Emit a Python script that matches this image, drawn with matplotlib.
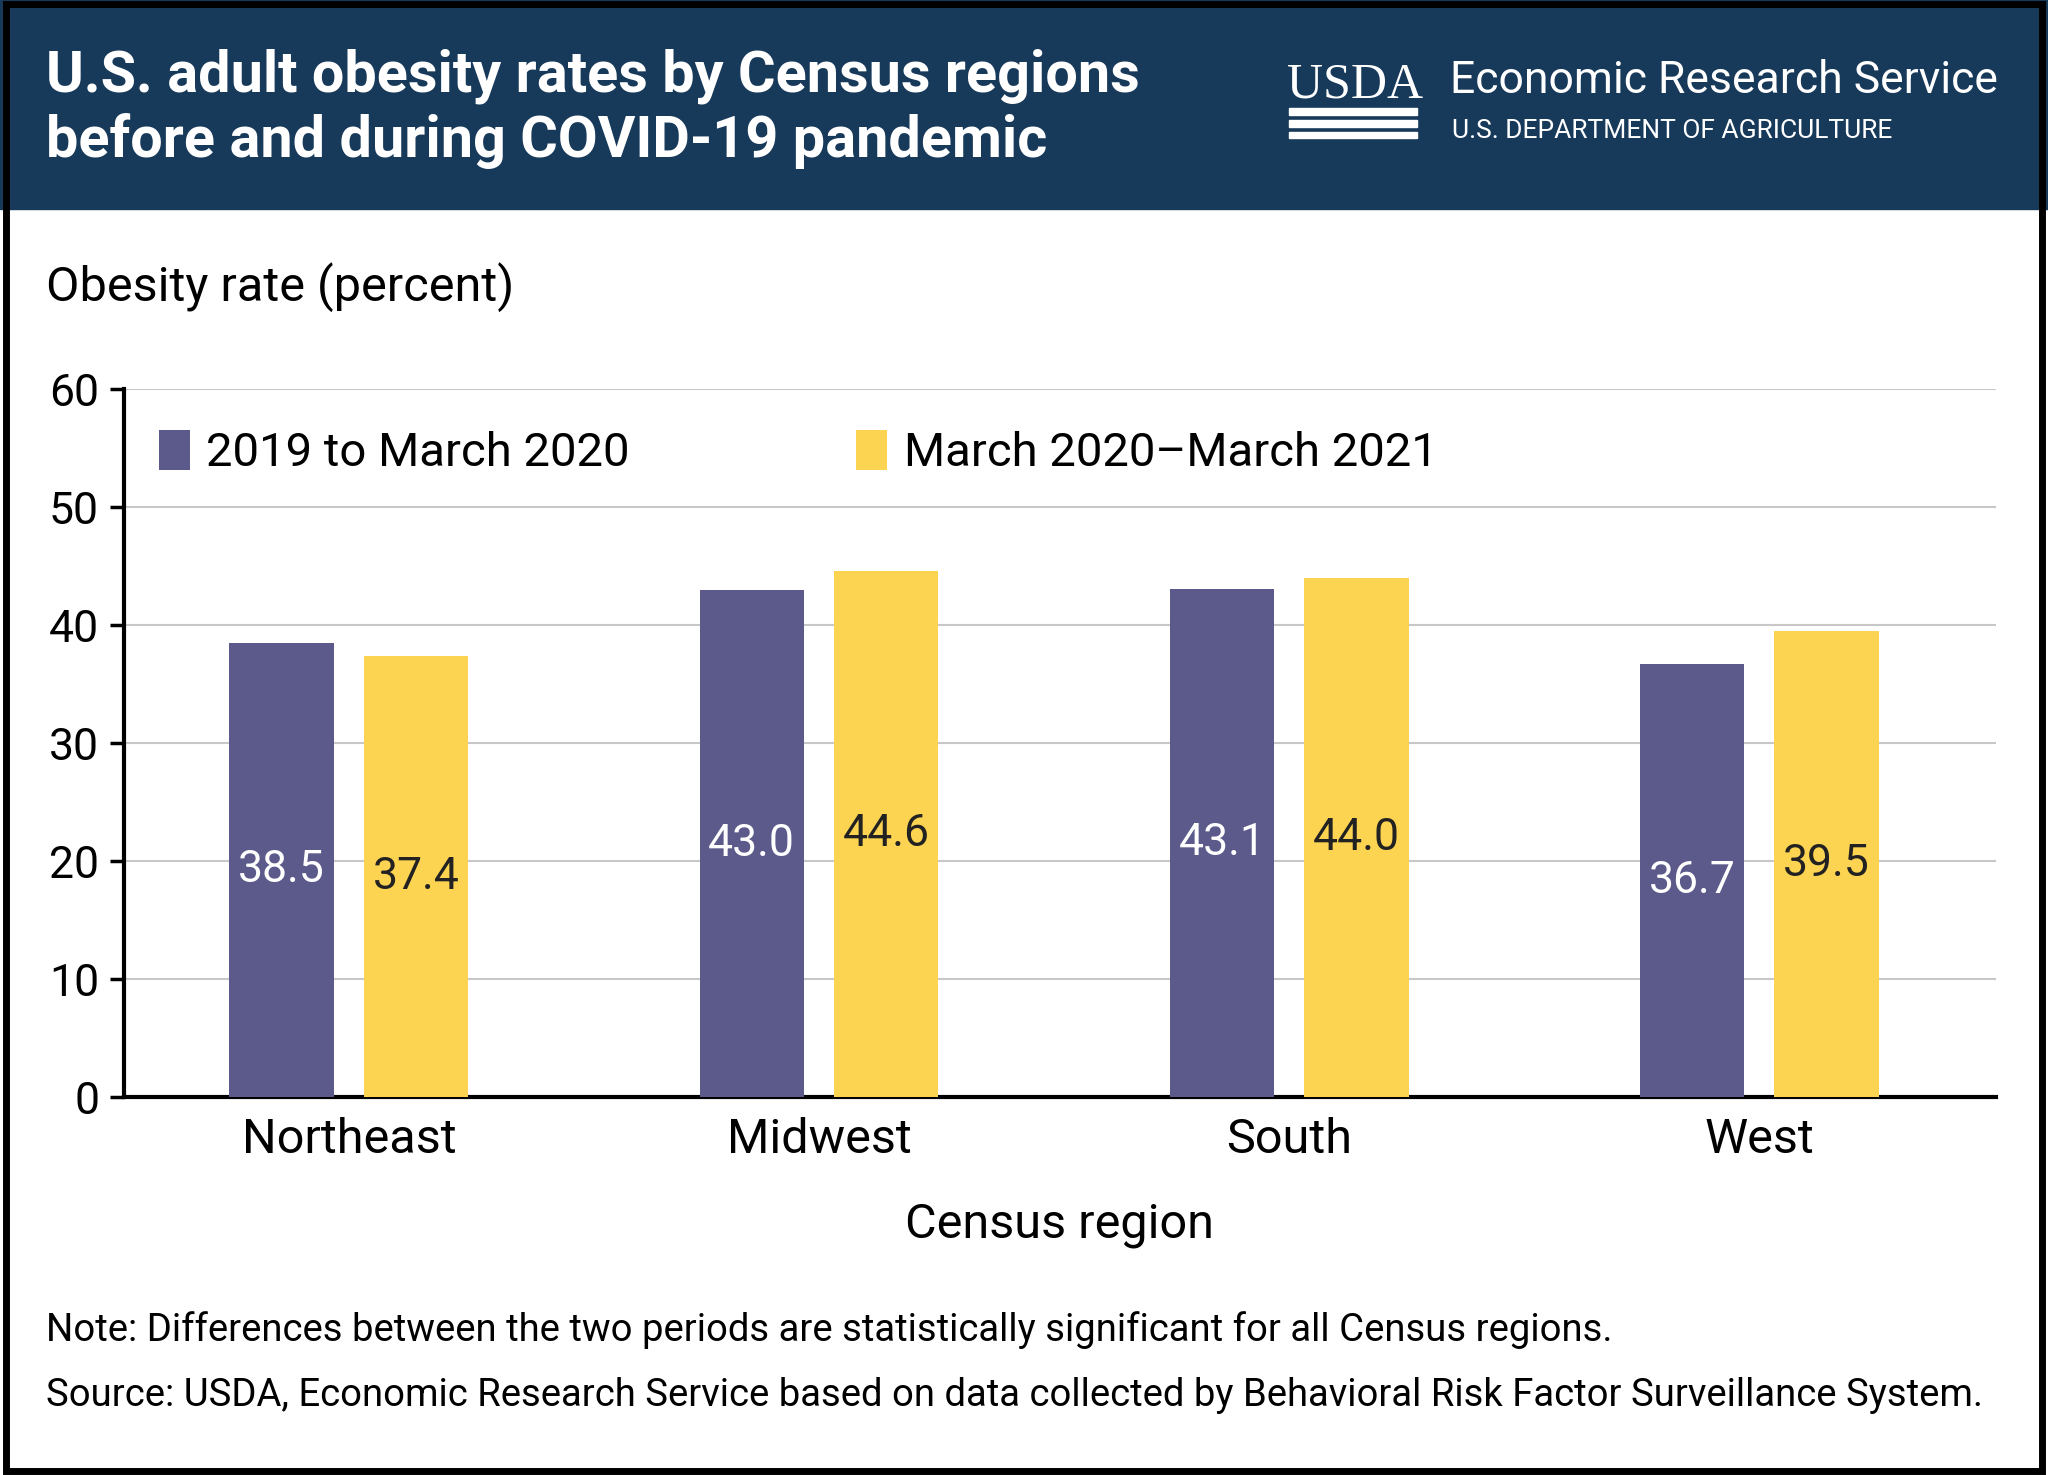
import matplotlib
matplotlib.use("Agg")
import matplotlib.pyplot as plt
import numpy as np
from matplotlib.patches import Rectangle

plt.rcParams['font.family'] = ['Roboto', 'DejaVu Sans']

regions = ["Northeast", "Midwest", "South", "West"]
before = [38.5, 43.0, 43.1, 36.7]
during = [37.4, 44.6, 44.0, 39.5]
series_names = ["2019 to March 2020", "March 2020\u2013March 2021"]
yticks = [0, 10, 20, 30, 40, 50, 60]

purple = "#5b5a8a"
yellow = "#fdd451"

fig = plt.figure(figsize=(20.48, 14.75), dpi=100)
fig.patches.append(Rectangle((0, 1 - 160/1129), 1, 160/1129, transform=fig.transFigure,
                             color="#17395a", zorder=0))
fig.patches.append(Rectangle((0.003, 0.003), 0.994, 0.994, transform=fig.transFigure,
                             fill=False, ec="black", lw=5, zorder=5))
fig.text(35/1568, 1 - 58/1129, "U.S. adult obesity rates by Census regions", color="white",
         fontsize=41.5, fontweight="bold", va="center")
fig.text(35/1568, 1 - 108/1129, "before and during COVID-19 pandemic", color="white",
         fontsize=41.5, fontweight="bold", va="center")
fig.text(985/1568, 1 - 65/1129, "USDA", color="white", fontsize=36, va="center",
         family=["Liberation Serif"])
for i in range(3):
    fig.patches.append(Rectangle((987/1568, 1 - (88 + i*9)/1129), 98/1568, 5/1129,
                                 transform=fig.transFigure, color="white"))
fig.text(1110/1568, 1 - 62/1129, "Economic Research Service", color="white", fontsize=32, va="center")
fig.text(1112/1568, 1 - 100/1129, "U.S. DEPARTMENT OF AGRICULTURE", color="white", fontsize=19, va="center")

ax = fig.add_axes([95/1568, 1 - 840/1129, (1528-95)/1568, (840-298)/1129])
x = np.arange(len(regions))
w = 0.222
off = 0.143
ax.bar(x - off, before, w, color=purple, label=series_names[0], zorder=3)
ax.bar(x + off, during, w, color=yellow, label=series_names[1], zorder=3)
for xi, v in zip(x, before):
    ax.text(xi - off, v/2, f"{v:.1f}", ha="center", va="center", color="white", fontsize=32, zorder=4)
for xi, v in zip(x, during):
    ax.text(xi + off, v/2, f"{v:.1f}", ha="center", va="center", color="#222222", fontsize=32, zorder=4)

ax.set_xlim(-0.478, 3.503)
ax.set_ylim(0, 60)
ax.set_yticks(yticks)
ax.set_yticklabels([str(t) for t in yticks], fontsize=32)
ax.set_xticks(x)
ax.set_xticklabels(regions, fontsize=35)
ax.tick_params(axis="x", length=0, pad=14)
ax.tick_params(axis="y", length=10, width=2.5, pad=8)
ax.grid(axis="y", color="#c8c8c8", lw=1.5, zorder=0)
for s in ["top", "right"]:
    ax.spines[s].set_visible(False)
ax.spines["left"].set_linewidth(3)
ax.spines["bottom"].set_linewidth(3)
ax.set_xlabel("Census region", fontsize=35, labelpad=28)
ax.legend(loc="upper left", bbox_to_anchor=(-0.004, 1.002), ncol=2, frameon=False, fontsize=34,
          handlelength=0.65, handleheight=0.9, columnspacing=4.8, handletextpad=0.35)

fig.text(35/1568, 1 - 220/1129, "Obesity rate (percent)", fontsize=35, va="center")
fig.text(35/1568, 1 - 1018/1129, "Note: Differences between the two periods are statistically significant for all Census regions.",
         fontsize=27.5, va="center")
fig.text(35/1568, 1 - 1068/1129, "Source: USDA, Economic Research Service based on data collected by Behavioral Risk Factor Surveillance System.",
         fontsize=27.5, va="center")

fig.savefig("out.png", dpi=100)
